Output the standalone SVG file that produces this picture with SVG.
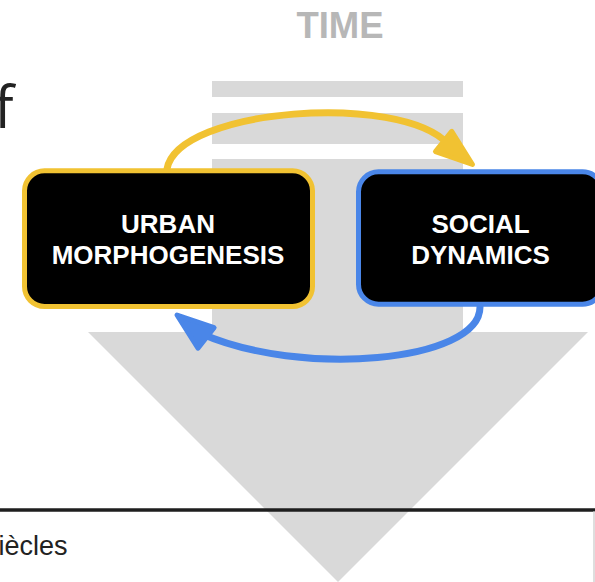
<svg xmlns="http://www.w3.org/2000/svg" width="595" height="582" viewBox="0 0 595 582">
  <style>
    .bg { fill: #d9d9d9; }
    .node-text { font-family: "Liberation Sans", Arial, sans-serif; font-weight: bold; font-size: 26px; fill: #ffffff; text-anchor: middle; }
    .box { fill: #000000; stroke-width: 5; }
    .conn { fill: none; stroke-width: 7; stroke-linecap: round; }
    .head { stroke-width: 5; stroke-linejoin: round; }
  </style>
  <defs>
    <path id="arrowhead" d="M0,0 L-37,-13 L-37,13 Z"/>
  </defs>

  <rect width="595" height="582" fill="#ffffff"/>

  <!-- background time shapes -->
  <g id="time-arrow">
    <rect class="bg" x="212" y="81" width="251" height="16"/>
    <rect class="bg" x="212" y="113" width="251" height="31"/>
    <rect class="bg" x="212" y="159" width="251" height="175"/>
    <polygon class="bg" points="88,332 588,332 338,582"/>
  </g>

  <text id="time-label" x="340" y="38" font-family="Liberation Sans, Arial, sans-serif" font-weight="bold" font-size="36.5" fill="#b7b7b7" text-anchor="middle">TIME</text>

  <text id="title-fragment" x="-6" y="128" font-family="Open Sans, sans-serif" font-size="58" fill="#222222">f</text>

  <g id="table-fragment">
    <line x1="0" y1="510" x2="595" y2="510" stroke="#1e1e1e" stroke-width="3.4"/>
    <line x1="594" y1="511" x2="594" y2="582" stroke="#c8c8c8" stroke-width="1.2"/>
    <text x="-1.5" y="555" font-family="Liberation Sans, Arial, sans-serif" font-size="27" fill="#222222">iècles</text>
  </g>

  <g id="urban-morphogenesis">
    <rect class="box" x="24.5" y="170.8" width="288" height="135.7" rx="20" stroke="#f1c232"/>
    <text class="node-text" x="168" y="233">URBAN</text>
    <text class="node-text" x="168" y="264">MORPHOGENESIS</text>
  </g>

  <g id="social-dynamics">
    <rect class="box" x="358.5" y="171.8" width="244" height="132.4" rx="20" stroke="#4a86e8"/>
    <text class="node-text" x="480.5" y="233">SOCIAL</text>
    <text class="node-text" x="480.5" y="264">DYNAMICS</text>
  </g>

  <g id="connectors">
    <path class="conn" stroke="#f1c232" d="M167,169 C178,108 400,92 448,144"/>
    <use href="#arrowhead" class="head" fill="#f1c232" stroke="#f1c232" transform="translate(472.5,164.5) rotate(38.6)"/>
    <path class="conn" stroke="#4a86e8" d="M480,307 C480,362 300,378 200,333"/>
    <use href="#arrowhead" class="head" fill="#4a86e8" stroke="#4a86e8" transform="translate(177,315) rotate(218.3)"/>
  </g>
</svg>
